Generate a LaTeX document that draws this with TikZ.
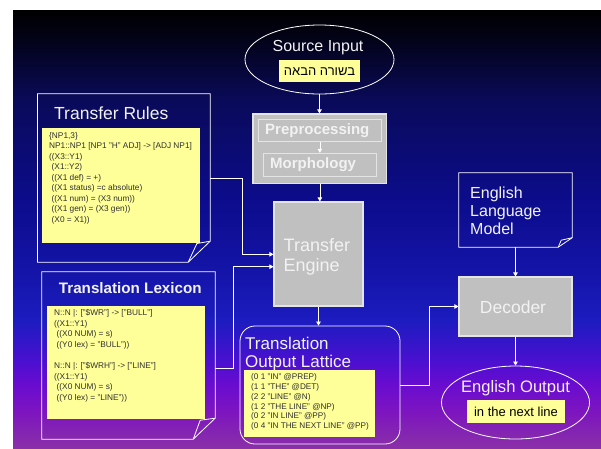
\documentclass[tikz,border=0pt]{standalone}
\usepackage{fontspec}
\setmainfont{Liberation Sans}
\newfontfamily\hebfont[Script=Hebrew]{Liberation Sans}
\TeXXeTstate=1
\usetikzlibrary{shapes.geometric,arrows.meta,calc}
\definecolor{yel}{HTML}{FFFF99}
\definecolor{gbox}{HTML}{C0C0C0}
\definecolor{gedge}{HTML}{E4E4E4}
\definecolor{smalltxt}{HTML}{303030}
\definecolor{lighttxt}{HTML}{F2F2F2}
\definecolor{ca}{HTML}{000000}
\definecolor{cb}{HTML}{03031A}
\definecolor{cc}{HTML}{0A0A5A}
\definecolor{cd}{HTML}{0C0C8C}
\definecolor{ce}{HTML}{1414A8}
\definecolor{cf}{HTML}{1C1CC0}
\definecolor{cg}{HTML}{4A10D0}
\definecolor{ch}{HTML}{6A0CD0}
\definecolor{ci}{HTML}{7C14C0}
\definecolor{cj}{HTML}{8A30A8}
\tikzset{
  arr/.style={draw=white, line width=0.7pt, -{Triangle[length=4pt,width=4.5pt]}},
  conn/.style={draw=white, line width=0.7pt},
  graybox/.style={fill=gbox, draw=gedge, line width=1.1pt, inner sep=0pt},
  innerbox/.style={draw=gedge, line width=1pt, inner sep=0pt},
  yelbox/.style={fill=yel, inner sep=0pt},
  docarea/.style={inner sep=0pt},
  docline/.style={draw=white, line width=0.8pt},
  oval/.style={ellipse, draw=white, line width=0.8pt, inner sep=0pt},
  small/.style={font=\fontsize{8.3}{10.5}\selectfont, text=smalltxt, align=left, inner sep=0pt, anchor=north west},
  light/.style={text=lighttxt, inner sep=0pt}
}
\begin{document}
\begin{tikzpicture}[x=1pt,y=-1pt]
\useasboundingbox (0,0) rectangle (601,448);
\fill[white] (0,0) rectangle (601,448);
% background gradient
\shade[top color=ca, bottom color=cb] (13,10) rectangle (601,40.5);
\shade[top color=cb, bottom color=cc] (13,40) rectangle (601,100.5);
\shade[top color=cc, bottom color=cd] (13,100) rectangle (601,200.5);
\shade[top color=cd, bottom color=ce] (13,200) rectangle (601,270.5);
\shade[top color=ce, bottom color=cf] (13,270) rectangle (601,320.5);
\shade[top color=cf, bottom color=cg] (13,320) rectangle (601,360.5);
\shade[top color=cg, bottom color=ch] (13,360) rectangle (601,385.5);
\shade[top color=ch, bottom color=ci] (13,385) rectangle (601,410.5);
\shade[top color=ci, bottom color=cj] (13,410) rectangle (601,448);

% Source input
\node[oval, minimum width=149pt, minimum height=69pt] (src) at (319.5,59.5) {};
\node[light, font=\fontsize{16}{19}\selectfont] (srct) at (318,48) {Source Input};
\node[yelbox, minimum width=81pt, minimum height=22.3pt, font=\fontsize{13}{15}\selectfont] (srcy) at (319.5,71.2) {\hebfont\beginR בשורה הבאה\endR};

% Preprocessing block
\node[graybox, minimum width=133.7pt, minimum height=69.3pt] (pre) at (319.85,148.65) {};
\node[innerbox, minimum width=123.7pt, minimum height=22.4pt] (prei) at (319.85,130.5) {};
\node[innerbox, minimum width=113.4pt, minimum height=22.7pt] (morph) at (320,164.65) {};
\node[light, anchor=west, font=\bfseries\fontsize{15}{18}\selectfont] (pret) at (265,130.8) {Preprocessing};
\node[light, anchor=west, font=\bfseries\fontsize{15}{18}\selectfont] (morpht) at (270,165) {Morphology};

% Transfer engine
\node[graybox, minimum width=89pt, minimum height=104pt] (te) at (318.5,254) {};
\node[light, anchor=west, align=left, font=\fontsize{18}{20.5}\selectfont] (tet) at (283.5,257) {Transfer\\Engine};

% Translation output lattice
\node[draw=white, line width=0.8pt, rounded corners=15pt, minimum width=160pt, minimum height=118pt, inner sep=0pt] (lat) at (320,385) {};
\node[light, anchor=west, align=left, font=\fontsize{17}{18.5}\selectfont] (latt) at (245,354) {Translation\\Output Lattice};
\node[yelbox, minimum width=131pt, minimum height=67pt] (laty) at (309.5,403.5) {};
\node[small, font=\fontsize{8.2}{9.8}\selectfont] (latx) at (251,373.5) {(0 1 "IN" @PREP)\\(1 1 "THE" @DET)\\(2 2 "LINE" @N)\\(1 2 "THE LINE" @NP)\\(0 2 "IN LINE" @PP)\\(0 4 "IN THE NEXT LINE" @PP)};

% Transfer rules document
\node[docarea, minimum width=172.4pt, minimum height=168pt] (tr) at (123.8,178) {};
\draw[docline] (tr.south west) -- (tr.north west) -- (tr.north east) -- ($(tr.south east)+(0pt,21pt)$) -- ($(tr.south east)+(-22pt,0pt)$) -- cycle;
\node[yelbox, minimum width=158pt, minimum height=115pt] (try) at (121,185.5) {};
\draw[docline] ($(tr.south east)+(0pt,21pt)$) -- ($(tr.south east)+(-13.3pt,18.7pt)$) -- ($(tr.south east)+(-22pt,0pt)$);
\node[light, anchor=west, font=\fontsize{17.5}{20}\selectfont] (trt) at (54,113.5) {Transfer Rules};
\node[small] (trx) at (49,132.2) {\{NP1,3\}\\NP1::NP1 [NP1 "H" ADJ] -> [ADJ NP1]\\((X3::Y1)\\\hspace*{2.5pt}(X1::Y2)\\\hspace*{2.5pt}((X1 def) = +)\\\hspace*{2.5pt}((X1 status) =c absolute)\\\hspace*{2.5pt}((X1 num) = (X3 num))\\\hspace*{2.5pt}((X1 gen) = (X3 gen))\\\hspace*{2.5pt}(X0 = X1))};

% Translation lexicon document
\node[docarea, minimum width=173pt, minimum height=167pt] (lex) at (128.5,355.5) {};
\draw[docline] (lex.south west) -- (lex.north west) -- (lex.north east) -- ($(lex.south east)+(0pt,21pt)$) -- ($(lex.south east)+(-22pt,0pt)$) -- cycle;
\node[yelbox, minimum width=158pt, minimum height=113pt] (lexy) at (126,362.5) {};
\draw[docline] ($(lex.south east)+(0pt,21pt)$) -- ($(lex.south east)+(-15pt,19pt)$) -- ($(lex.south east)+(-22pt,0pt)$);
\node[light, font=\bfseries\fontsize{15.2}{18}\selectfont] (lext) at (130.3,288.5) {Translation Lexicon};
\node[small, font=\fontsize{8.3}{10.6}\selectfont] (lexx) at (54,309.3) {N::N |: ["\$WR"] -> ["BULL"]\\((X1::Y1)\\\hspace*{2.5pt}((X0 NUM) = s)\\\hspace*{2.5pt}((Y0 lex) = "BULL"))\\[10.6pt]N::N |: ["\$WRH"] -> ["LINE"]\\((X1::Y1)\\\hspace*{2.5pt}((X0 NUM) = s)\\\hspace*{2.5pt}((Y0 lex) = "LINE"))};

% English language model document
\node[docarea, minimum width=113pt, minimum height=74pt] (elm) at (515.5,210) {};
\draw[docline] (elm.south west) -- (elm.north west) -- (elm.north east) -- ($(elm.south east)+(0pt,9.5pt)$) -- ($(elm.south east)+(-14pt,0pt)$) -- cycle;
\draw[docline] ($(elm.south east)+(0pt,9.5pt)$) -- ($(elm.south east)+(-11pt,7pt)$) -- ($(elm.south east)+(-14pt,0pt)$);
\node[light, anchor=west, align=left, font=\fontsize{16}{18}\selectfont] (elmt) at (470,210.5) {English\\Language\\Model};

% Decoder
\node[graybox, minimum width=113pt, minimum height=59pt] (dec) at (515.5,306.5) {};
\node[light, font=\fontsize{17.5}{20}\selectfont] (dect) at (513,307) {Decoder};

% English output
\node[oval, minimum width=148pt, minimum height=73pt] (eo) at (515.5,402.5) {};
\node[light, font=\fontsize{16.6}{19}\selectfont] (eot) at (515.5,388) {English Output};
\node[yelbox, minimum width=98pt, minimum height=23pt, font=\fontsize{13}{15}\selectfont] (eoy) at (516,411.5) {in the next line};

% connectors
\draw[arr] (src.south) -- (src.south |- pre.north);
\draw[arr] (prei.south) -- (prei.south |- morph.north);
\draw[arr] (pre.south) -- (pre.south |- te.north);
\draw[arr] (te.south) -- (te.south |- lat.north);
\coordinate (trb) at (242.3,254.3);
\draw[arr] (tr.east) -| (trb) -- (trb -| te.west);
\coordinate (lexa) at (233.3,368.3);
\coordinate (lexb) at (233.3,266.7);
\draw[arr] (lexa -| lex.east) -- (lexa) -- (lexb) -- (lexb -| te.west);
\coordinate (latb) at (429,385);
\draw[arr] (latb -| lat.east) -- (latb) |- (dec.west);
\draw[arr] (elm.south) -- (dec.north);
\draw[arr] (dec.south) -- (eo.north);
\end{tikzpicture}
\end{document}
